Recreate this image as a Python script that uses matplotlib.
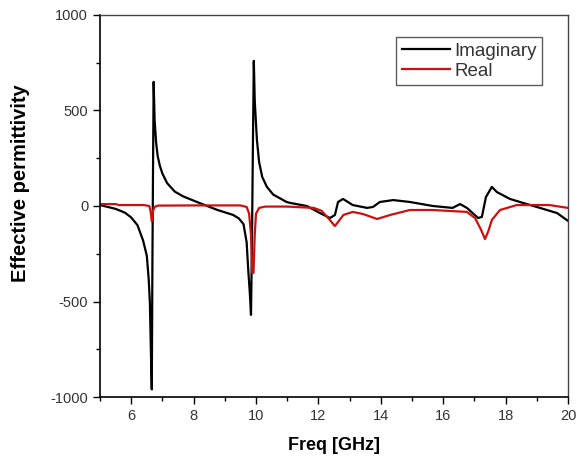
import matplotlib
matplotlib.use('Agg')
import matplotlib.pyplot as plt
from matplotlib.ticker import MultipleLocator

plt.rcParams['font.family'] = ['Liberation Sans', 'DejaVu Sans']
plt.rcParams['axes.unicode_minus'] = False

# Imaginary part
imag_f = [5.0, 5.5, 5.8, 6.0, 6.2, 6.38, 6.5, 6.56, 6.6, 6.63, 6.66, 6.68, 6.70, 6.72, 6.75,
          6.8, 6.85, 6.92, 7.0, 7.15, 7.4, 7.67, 8.2, 8.75, 9.27, 9.45, 9.6, 9.7, 9.75,
          9.8, 9.84, 9.87, 9.9, 9.93, 9.96, 10.03, 10.1, 10.2, 10.35, 10.55, 10.98, 11.1,
          11.63, 12.05, 12.37, 12.53, 12.63, 12.79, 13.1, 13.56, 13.75, 13.97, 14.4, 14.93,
          15.67, 16.3, 16.54, 16.76, 17.12, 17.24, 17.37, 17.56, 17.72, 18.14, 18.56, 19.1,
          19.65, 20.0]
imag_eps = [5, -15, -35, -60, -100, -180, -260, -380, -510, -750, -960, -300, 200, 650, 450,
            330, 260, 210, 170, 120, 75, 50, 15, -20, -47, -65, -95, -190, -330,
            -450, -570, -200, 300, 760, 550, 345, 230, 152, 100, 60, 21, 16,
            0, -37, -63, -47, 21, 37, 5, -10, -5, 21, 31, 21,
            0, -10, 10, -10, -63, -57, 47, 100, 73, 37, 16, -10,
            -37, -78]

# Real part
real_f = [5.0, 5.5, 5.6, 6.4, 6.58, 6.62, 6.66, 6.70, 6.75, 6.85, 8.0, 9.5, 9.7, 9.78,
          9.84, 9.88, 9.92, 9.96, 10.0, 10.1, 10.3, 11.0, 11.85, 12.1, 12.28, 12.53, 12.8,
          13.1, 13.43, 13.88, 14.3, 14.93, 15.67, 16.76, 17.02, 17.2, 17.34, 17.45, 17.56,
          17.82, 18.36, 19.4, 20.0]
real_eps = [10, 10, 5, 5, 0, -25, -80, -25, -5, 2, 3, 3, -5, -40,
            -150, -350, -350, -150, -40, -10, -3, -3, -10, -25, -57, -105, -47,
            -31, -42, -68, -47, -21, -21, -31, -63, -120, -173, -130, -73,
            -21, 5, 5, -10]

fig = plt.figure(figsize=(5.79, 4.61), dpi=100)
ax = fig.add_axes([0.1727, 0.1388, 0.8083, 0.8287])

ax.plot(imag_f, imag_eps, color='black', lw=1.6, label='Imaginary')
ax.plot(real_f, real_eps, color='#cc1010', lw=1.6, label='Real')

ax.set_xlim(5, 20)
ax.set_ylim(-1000, 1000)
ax.xaxis.set_minor_locator(MultipleLocator(1))
ax.yaxis.set_major_locator(MultipleLocator(500))
ax.yaxis.set_minor_locator(MultipleLocator(250))
ax.set_xticks([6, 8, 10, 12, 14, 16, 18, 20])
ax.tick_params(which='major', direction='out', length=5, width=1, labelsize=10.5,
               colors='black', labelcolor='#333333')
ax.tick_params(which='minor', direction='out', length=3, width=1)
ax.tick_params(top=False, right=False)

for s in ['left', 'bottom']:
    ax.spines[s].set_linewidth(1.2)
for s in ['top', 'right']:
    ax.spines[s].set_linewidth(1.0)
    ax.spines[s].set_color('#444444')

ax.set_xlabel('Freq [GHz]', fontsize=13, fontweight='bold', labelpad=10)
ax.set_ylabel('Effective permittivity', fontsize=14.5, fontweight='bold')
ax.yaxis.set_label_coords(-0.15, 0.56)

leg = ax.legend(loc='upper right', bbox_to_anchor=(0.945, 0.942), fontsize=13.5,
                frameon=True, fancybox=False, edgecolor='#333333',
                handlelength=2.6, handletextpad=0.2, borderpad=0.3,
                labelspacing=0.15, borderaxespad=0)
leg.get_frame().set_linewidth(1.0)
for t in leg.get_texts():
    t.set_color('#333333')

fig.savefig('out.png', dpi=100)
